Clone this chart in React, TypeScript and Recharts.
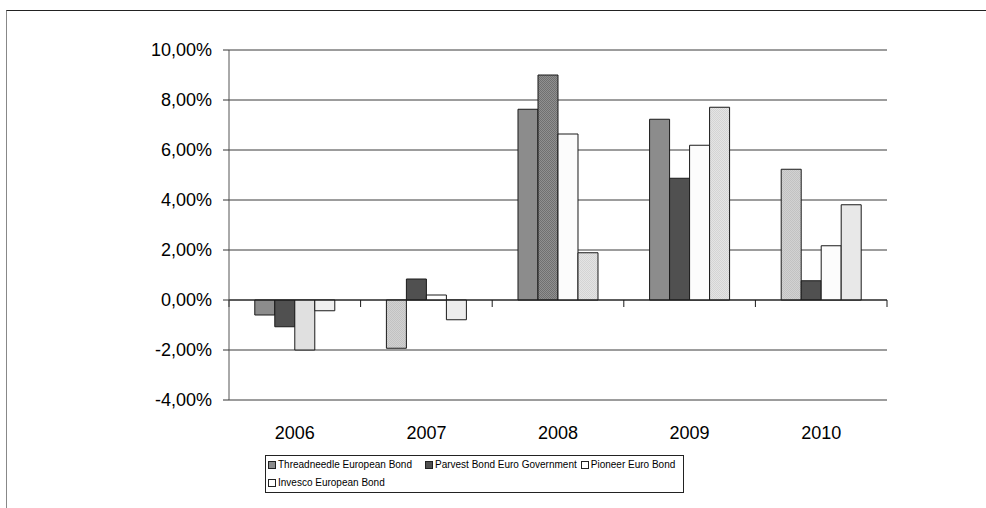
import { BarChart, Bar, XAxis, YAxis, CartesianGrid, ReferenceLine, Cell } from "recharts";

const years = ["2006", "2007", "2008", "2009", "2010"];
const seriesNames = [
  "Threadneedle European Bond",
  "Parvest Bond Euro Government",
  "Pioneer Euro Bond",
  "Invesco European Bond",
];
const threadneedle = [-0.6, -1.93, 7.63, 7.23, 5.23];
const parvest = [-1.07, 0.84, 9.0, 4.87, 0.77];
const pioneer = [-2.0, 0.2, 6.64, 6.19, 2.17];
const invesco = [-0.43, -0.79, 1.89, 7.71, 3.81];
const yTicks = [-4, -2, 0, 2, 4, 6, 8, 10];

// per-point fills (the source chart varies them by point)
const fills = [
  ["#8c8c8c", "url(#patLight)", "#8c8c8c", "#8c8c8c", "url(#patLight)"],
  ["#505050", "#505050", "url(#patMid)", "#505050", "#505050"],
  ["#e0e0e0", "#ffffff", "#fcfcfc", "#fcfcfc", "#fcfcfc"],
  ["#f0f0f0", "#ececec", "url(#patPale)", "url(#patPale)", "#e8e8e8"],
];
const legendSwatches = ["#8c8c8c", "#505050", "#ffffff", "#ffffff"];
const legendRows = [[0, 1, 2], [3]];
const legendGaps = [13, 4, 0, 0];

const keys = ["s1", "s2", "s3", "s4"];
const data = years.map((year, i) => ({
  year,
  s1: threadneedle[i],
  s2: parvest[i],
  s3: pioneer[i],
  s4: invesco[i],
}));

const fmtPct = (v: number) => `${v.toFixed(2).replace(".", ",")}%`;

function ZeroAxis(props: any) {
  const { x1, x2, y1 } = props;
  const n = years.length;
  const step = (x2 - x1) / n;
  return (
    <g>
      <line x1={x1} x2={x2} y1={y1} y2={y1} stroke="#1a1a1a" strokeWidth={1} />
      {Array.from({ length: n + 1 }, (_, i) => (
        <line key={i} x1={x1 + i * step} x2={x1 + i * step} y1={y1} y2={y1 + 7} stroke="#1a1a1a" />
      ))}
    </g>
  );
}

function LegendBox() {
  return (
    <div
      style={{
        position: "absolute",
        left: 265,
        top: 455,
        width: 419,
        height: 38,
        boxSizing: "border-box",
        border: "1px solid #222",
        padding: "0 0 0 2px",
        fontFamily: "Liberation Sans, Arial, sans-serif",
        fontSize: 10,
        lineHeight: "18px",
        color: "#000",
      }}
    >
      {legendRows.map((row, ri) => (
        <div key={ri} style={{ display: "flex", alignItems: "center", height: 18 }}>
          {row.map((i) => (
            <span
              key={i}
              style={{
                display: "inline-flex",
                alignItems: "center",
                whiteSpace: "nowrap",
                marginRight: legendGaps[i],
              }}
            >
              <span
                style={{
                  width: 6,
                  height: 6,
                  border: "1px solid #222",
                  background: legendSwatches[i],
                  marginRight: 2,
                  display: "inline-block",
                }}
              />
              {seriesNames[i]}
            </span>
          ))}
        </div>
      ))}
    </div>
  );
}

export default function App() {
  return (
    <div
      style={{
        position: "absolute",
        left: 0,
        top: 0,
        width: 986,
        height: 508,
        background: "#fff",
        overflow: "hidden",
        fontFamily: "Liberation Sans, Arial, sans-serif",
      }}
    >
      <div
        style={{
          position: "absolute",
          left: 6,
          top: 10,
          width: 990,
          height: 510,
          borderTop: "1px solid #222",
          borderLeft: "1px solid #888",
        }}
      />
      <BarChart
        width={986}
        height={508}
        data={data}
        margin={{ top: 50, right: 99, bottom: 78, left: 0 }}
        barCategoryGap="19.6%"
        barGap={0}
        style={{ position: "absolute", left: 0, top: 0 }}
      >
        <defs>
          <pattern id="patLight" width="2" height="2" patternUnits="userSpaceOnUse">
            <rect width="2" height="2" fill="#d2d2d2" />
            <rect width="1" height="1" fill="#c2c2c2" />
            <rect x="1" y="1" width="1" height="1" fill="#c2c2c2" />
          </pattern>
          <pattern id="patMid" width="2" height="2" patternUnits="userSpaceOnUse">
            <rect width="2" height="2" fill="#909090" />
            <rect width="1" height="1" fill="#707070" />
            <rect x="1" y="1" width="1" height="1" fill="#707070" />
          </pattern>
          <pattern id="patPale" width="2" height="2" patternUnits="userSpaceOnUse">
            <rect width="2" height="2" fill="#e4e4e4" />
            <rect width="1" height="1" fill="#d4d4d4" />
            <rect x="1" y="1" width="1" height="1" fill="#d4d4d4" />
          </pattern>
        </defs>
        <CartesianGrid vertical={false} stroke="#3a3a3a" />
        <XAxis
          dataKey="year"
          height={30}
          axisLine={false}
          tickLine={false}
          tickSize={0}
          tickMargin={26}
          tick={{ fontSize: 18, fill: "#000" }}
        />
        <YAxis
          width={229}
          domain={[-4, 10]}
          ticks={yTicks}
          tickFormatter={fmtPct}
          axisLine={{ stroke: "#555" }}
          tickLine={{ stroke: "#333" }}
          tickSize={6}
          tickMargin={11}
          tick={{ fontSize: 18, fill: "#000" }}
          interval={0}
        />
        {keys.map((k, si) => (
          <Bar key={k} dataKey={k} name={seriesNames[si]} stroke="#1a1a1a" strokeWidth={1} isAnimationActive={false}>
            {data.map((_, pi) => (
              <Cell key={pi} fill={fills[si][pi]} />
            ))}
          </Bar>
        ))}
        <ReferenceLine y={0} shape={<ZeroAxis />} ifOverflow="visible" />
      </BarChart>
      <LegendBox />
    </div>
  );
}
